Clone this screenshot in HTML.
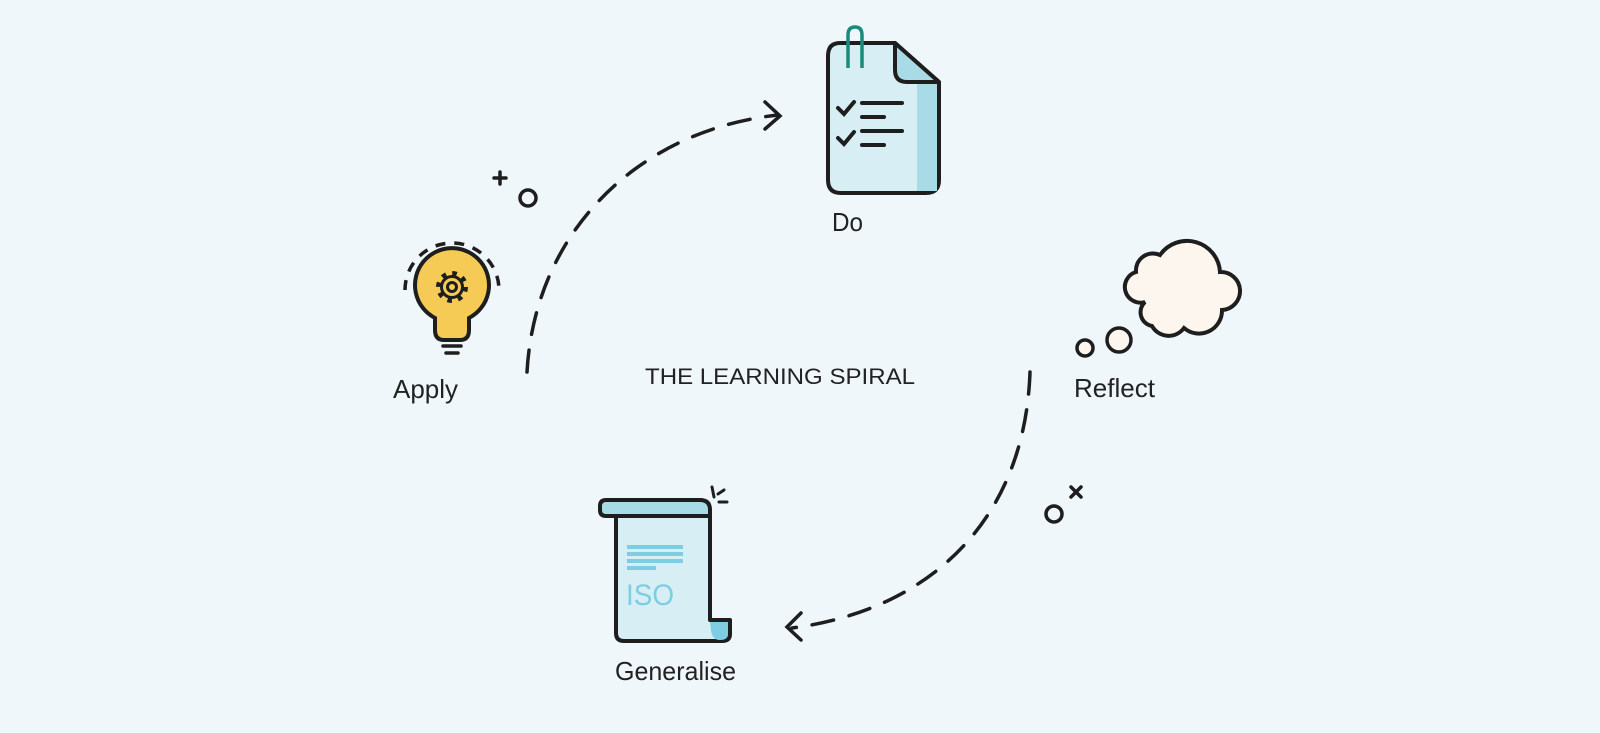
<!DOCTYPE html>
<html><head><meta charset="utf-8"><style>
html,body{margin:0;padding:0;background:#f0f7fb;}
svg{display:block}
text{font-family:"Liberation Sans",sans-serif;fill:#222;}
</style></head><body>
<svg width="1600" height="733" viewBox="0 0 1600 733" xmlns="http://www.w3.org/2000/svg">
<rect width="1600" height="733" fill="#f0f7fb"/>
<g fill="none" stroke="#1e1e1e" stroke-width="3.5" stroke-linecap="round">
  <path d="M527,372 C535,230 640,130 778,115" stroke-dasharray="22,16"/>
  <path d="M765,102 L780,116 L765,129"/>
  <path d="M1030,372 C1025,520 930,610 792,628" stroke-dasharray="22,16"/>
  <path d="M801,613 L787,627 L801,640"/>
  <path d="M494,178 L506,178 M500,172 L500,184"/>
  <circle cx="528" cy="198" r="8"/>
  <circle cx="1054" cy="514" r="8"/>
  <path d="M1071,487 L1081,497 M1081,487 L1071,497"/>
</g>
<!-- Do doc -->
<g stroke="#1e1e1e" stroke-width="4" stroke-linejoin="round">
  <path d="M840,43 L895,43 L939,82 L939,180 Q939,193 926,193 L841,193 Q828,193 828,180 L828,56 Q828,43 840,43 Z" fill="#d8eef5"/>
  <rect x="917" y="84" width="20" height="107" fill="#a9dbe6" stroke="none"/>
  <path d="M895,43 L895,70 Q895,82 907,82 L939,82 Z" fill="#a9dbe6"/>
</g>
<path d="M848,68 L848,35 Q848,27 855,27 Q862,27 862,35 L862,68" fill="none" stroke="#1a8a7a" stroke-width="3.5"/>
<g stroke="#1e1e1e" stroke-width="4" stroke-linecap="round" fill="none">
  <path d="M838,108 L844,114 L854,102"/><path d="M862,103 L902,103"/><path d="M862,117 L884,117"/>
  <path d="M838,138 L844,144 L854,132"/><path d="M862,131 L902,131"/><path d="M862,145 L884,145"/>
</g>
<!-- lightbulb -->
<path d="M405,290 A47,47 0 0 1 499,290" fill="none" stroke="#1e1e1e" stroke-width="3.5" stroke-dasharray="10,9"/>
<path d="M435,318 A37,37 0 1 1 469,318 L469,330 Q469,340 460,340 L444,340 Q435,340 435,330 Z" fill="#f5cb55" stroke="#1e1e1e" stroke-width="4"/>
<g stroke="#1e1e1e" stroke-width="3.5" stroke-linecap="round">
  <path d="M443,346 L461,346 M446,353 L458,353"/>
</g>
<g fill="none" stroke="#1e1e1e">
  <circle cx="452" cy="287" r="13.5" stroke-width="5" stroke-dasharray="4.5,6.1"/>
  <circle cx="452" cy="287" r="10.5" stroke-width="3"/>
  <circle cx="452" cy="287" r="4.5" stroke-width="3"/>
</g>
<!-- cloud -->
<path d="M1145,302 A15,15 0 0 1 1136,272 A17,17 0 0 1 1160,255 A33,33 0 0 1 1220,272 A18,18 0 0 1 1222,310 A23,23 0 0 1 1184,328 A19,19 0 0 1 1152,326 A14,14 0 0 1 1145,302 Z" fill="#fcf6ef" stroke="#1e1e1e" stroke-width="4"/>
<circle cx="1085" cy="348" r="8" fill="#fcf6ef" stroke="#1e1e1e" stroke-width="3.5"/>
<circle cx="1119" cy="340" r="12" fill="#fcf6ef" stroke="#1e1e1e" stroke-width="3.5"/>
<!-- scroll -->
<g stroke="#1e1e1e" stroke-width="4" stroke-linejoin="round">
  <path d="M616,516 L710,516 L710,620 L730,620 L730,634 Q730,641 722,641 L624,641 Q616,641 616,633 Z" fill="#d8eef5"/>
  <path d="M710,622 L728,622 L728,634 Q728,640 720,640 Q712,640 711,630 Z" fill="#7fcde3" stroke="none"/>
  <path d="M606,500 L700,500 Q710,500 710,510 L710,516 L606,516 Q600,516 600,510 L600,506 Q600,500 606,500 Z" fill="#a9dbe6"/>
</g>
<g stroke="#1e1e1e" stroke-width="3" stroke-linecap="round">
  <path d="M712,487 L714,497 M718,494 L724,490 M719,502 L727,502"/>
</g>
<g fill="#7fcde3">
  <rect x="627" y="545" width="56" height="4"/><rect x="627" y="552" width="56" height="4"/><rect x="627" y="559" width="56" height="4"/><rect x="627" y="566" width="29" height="4"/>
</g>
<text x="626" y="605" font-size="30" style="fill:#7fcde3" textLength="48" lengthAdjust="spacingAndGlyphs">ISO</text>
<text x="832" y="231" font-size="26" textLength="31" lengthAdjust="spacingAndGlyphs">Do</text>
<text x="393" y="398" font-size="26" textLength="65" lengthAdjust="spacingAndGlyphs">Apply</text>
<text x="1074" y="397" font-size="26" textLength="81" lengthAdjust="spacingAndGlyphs">Reflect</text>
<text x="615" y="680" font-size="26" textLength="121" lengthAdjust="spacingAndGlyphs">Generalise</text>
<text x="645" y="384" font-size="22" textLength="270" lengthAdjust="spacingAndGlyphs">THE LEARNING SPIRAL</text>
</svg>
</body></html>
